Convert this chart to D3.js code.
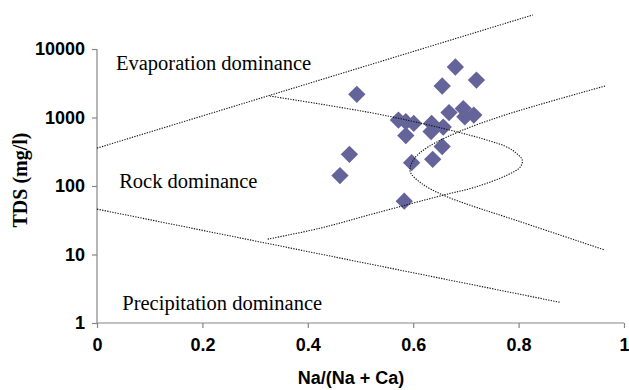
<!DOCTYPE html>
<html>
<head>
<meta charset="utf-8">
<script src="https://cdn.jsdelivr.net/npm/d3@7"></script>
<style>
	body { margin: 0; background: #fff; }
	.tick text { font-family: "Liberation Sans", Arial, sans-serif; font-weight: bold; font-size: 18px; fill: #000; }
	.region { font-family: "Liberation Serif", "Times New Roman", serif; font-size: 20.5px; fill: #000; }
</style>
</head>
<body>
<div id="chart"></div>
<script>
// samples: Na/(Na+Ca) and TDS (mg/l)
var ratio = [0.680, 0.720, 0.655, 0.493, 0.572, 0.586, 0.601, 0.586, 0.635, 0.634, 0.657,
	0.668, 0.695, 0.698, 0.715, 0.655, 0.637, 0.597, 0.479, 0.461, 0.583];
var tds = [5460, 3520, 2880, 2180, 917, 866, 820, 544, 820, 623, 725,
	1180, 1350, 1025, 1086, 376, 245, 219, 290, 142, 60];

// gibbs boundaries (dotted)
var evapLineX = [0, 0.827];
var evapLineY = [357, 31400];
var precipLineX = [0, 0.879];
var precipLineY = [46, 2.0];
var upperCurveX = [0.328, 0.533, 0.685, 0.746, 0.774, 0.793, 0.807, 0.803, 0.778, 0.717, 0.657, 0.528, 0.423, 0.323];
var upperCurveY = [2056, 1122, 612, 453, 382, 313, 239, 189, 144, 96, 73.5, 40, 24.2, 16.7];
var lowerCurveX = [0.964, 0.774, 0.685, 0.628, 0.603, 0.594, 0.616, 0.657, 0.717, 0.774, 0.964];
var lowerCurveY = [2880, 1086, 612, 370, 255, 165, 109, 73.5, 49.6, 35.7, 11.6];

var xTicks = [0, 0.2, 0.4, 0.6, 0.8, 1];
var yTicks = [1, 10, 100, 1000, 10000];

var regionLabels = ["Evaporation dominance", "Rock dominance", "Precipitation dominance"];
var regionX = [0.036, 0.042, 0.048];
var regionY = [4900, 93, 1.55];

var width = 629, height = 390;

var svg = d3.select("#chart").append("svg")
		.attr("width", width)
		.attr("height", height);

var x = d3.scaleLinear().domain([0, 1]).range([97, 624]);
var y = d3.scaleLog().domain([1, 10000]).range([323, 49]);

// Axes
// ------------------------------
var xAxis = svg.append("g")
		.attr("transform", "translate(0,323)")
		.call(d3.axisBottom(x).tickValues(xTicks).tickSize(5).tickPadding(10)
			.tickFormat(function(d) { return d == 0 || d == 1 ? d : d3.format(".1f")(d); }));

var yAxis = svg.append("g")
		.attr("transform", "translate(97,0)")
		.call(d3.axisLeft(y).tickValues(yTicks).tickSize(5).tickPadding(7)
			.tickFormat(d3.format("d")));

svg.selectAll(".domain, .tick line")
		.attr("stroke", "#868686")
		.attr("stroke-width", 1.2);
xAxis.select(".domain").attr("d", "M97,0H624");
yAxis.select(".domain").attr("d", "M0,49V323");

svg.append("text")
		.attr("x", 351)
		.attr("y", 384)
		.attr("text-anchor", "middle")
		.style("font-family", '"Liberation Sans", Arial, sans-serif')
		.style("font-weight", "bold")
		.style("font-size", "18px")
		.text("Na/(Na + Ca)");

svg.append("text")
		.attr("transform", "translate(27,180) rotate(-90)")
		.attr("text-anchor", "middle")
		.style("font-family", '"Liberation Serif", "Times New Roman", serif')
		.style("font-weight", "bold")
		.style("font-size", "20px")
		.text("TDS (mg/l)");

// Points
// ------------------------------
var points = ratio.map(function(r, i) { return {x: r, y: tds[i]}; });
var diamond = d3.symbol().type(d3.symbolSquare).size(150);

svg.append("g").selectAll("path")
		.data(points)
		.enter().append("path")
		.attr("d", diamond)
		.attr("transform", function(d) { return "translate(" + x(d.x) + "," + y(d.y) + ") rotate(45)"; })
		.style("fill", "#64649a");

// Boundary lines (on top of the points)
// ------------------------------
function zipLine(xs, ys) {
	return xs.map(function(v, i) { return [v, ys[i]]; });
}

var line = d3.line()
		.x(function(d) { return x(d[0]); })
		.y(function(d) { return y(d[1]); })
		.curve(d3.curveCatmullRom.alpha(0.5));

var boundaries = [
	zipLine(evapLineX, evapLineY),
	zipLine(precipLineX, precipLineY),
	zipLine(upperCurveX, upperCurveY),
	zipLine(lowerCurveX, lowerCurveY)
];

svg.append("g").selectAll("path")
		.data(boundaries)
		.enter().append("path")
		.attr("d", line)
		.style("fill", "none")
		.style("stroke", "#111")
		.style("stroke-width", 1.1)
		.style("stroke-dasharray", "1.3,1.3");

// Region labels
svg.append("g").selectAll("text")
		.data(regionLabels)
		.enter().append("text")
		.attr("class", "region")
		.attr("x", function(d, i) { return x(regionX[i]); })
		.attr("y", function(d, i) { return y(regionY[i]); })
		.text(function(d) { return d; });
</script>
</body>
</html>
